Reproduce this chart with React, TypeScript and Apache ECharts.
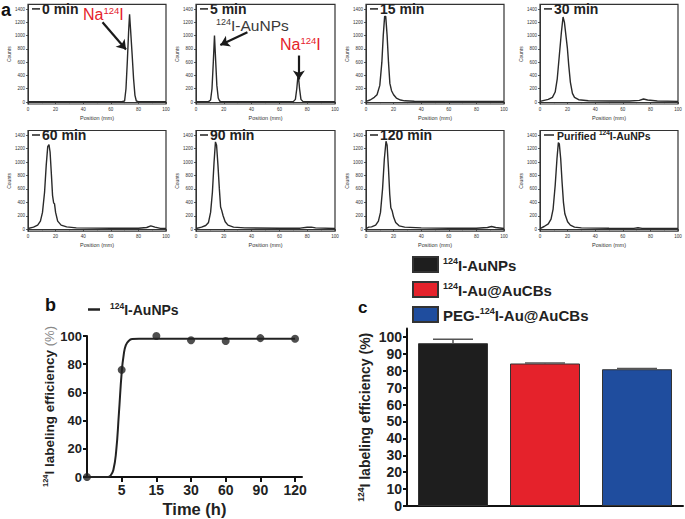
import { useEffect, useRef } from "react";
import * as echarts from "echarts";

const FONT = "'Liberation Sans', Arial, Helvetica, sans-serif";

// ---------- Panel a: radio-TLC traces [position (mm), counts] ----------
const TRACE_0MIN = [[0, 6], [20, 5], [40, 6], [60, 5], [68, 6], [70, 15], [71, 200], [72, 620], [73, 1100], [73.6, 1320], [74.3, 1100], [75.5, 700], [76.5, 350], [77.5, 100], [78.5, 15], [80, 6], [90, 5], [100, 6]];
const TRACE_5MIN = [[0, 5], [9, 6], [10.5, 30], [11.5, 200], [12.5, 620], [13.3, 1000], [14.2, 600], [15, 250], [16, 60], [17, 15], [18, 6], [40, 5], [60, 5], [70, 6], [71.5, 40], [72.5, 200], [73.5, 430], [74.5, 200], [75.5, 40], [77, 6], [100, 5]];
const TRACE_15MIN = [[0, 10], [3, 30], [6, 70], [8, 110], [10, 250], [11.5, 600], [12.5, 1000], [13.5, 1290], [14.3, 1290], [15.3, 1000], [16.3, 600], [17.3, 280], [18.5, 170], [20, 110], [22, 60], [25, 30], [28, 18], [35, 12], [60, 10], [80, 10], [100, 8]];
const TRACE_30MIN = [[0, 10], [3, 25], [6, 40], [9, 70], [11, 150], [12.5, 350], [14, 700], [15.5, 1050], [16.7, 1280], [17.7, 1200], [18.8, 1000], [19.8, 820], [20.8, 560], [22, 300], [23.5, 130], [25, 70], [28, 35], [35, 20], [50, 15], [65, 15], [72, 25], [75, 45], [78, 30], [85, 15], [100, 10]];
const TRACE_60MIN = [[0, 10], [4, 30], [7, 60], [9, 120], [10.5, 250], [12, 550], [13.2, 950], [14.3, 1230], [15.2, 1260], [16, 1150], [17, 800], [17.8, 500], [18.6, 390], [19.2, 380], [20, 250], [21.5, 120], [24, 60], [28, 35], [35, 20], [60, 15], [80, 15], [86, 25], [89, 50], [92, 30], [96, 12], [100, 10]];
const TRACE_90MIN = [[0, 10], [4, 30], [7, 55], [9, 100], [10.5, 250], [11.8, 550], [13, 1000], [14, 1300], [14.8, 1250], [15.8, 950], [16.8, 600], [17.7, 330], [18.5, 280], [19.5, 200], [21, 110], [23, 60], [27, 30], [35, 20], [60, 15], [75, 15], [80, 28], [83, 30], [86, 20], [100, 10]];
const TRACE_120MIN = [[0, 10], [2, 30], [4, 35], [7, 60], [9, 120], [10.5, 250], [12, 600], [13.3, 1050], [14.5, 1310], [15.3, 1250], [16.3, 900], [17.2, 520], [18, 320], [19, 270], [20, 180], [21.5, 100], [24, 50], [28, 30], [40, 20], [60, 15], [80, 15], [88, 25], [91, 40], [94, 25], [100, 10]];
const TRACE_PURIFIED = [[0, 10], [3, 40], [6, 80], [8, 150], [9.5, 300], [11, 650], [12.3, 1050], [13.3, 1290], [14, 1270], [15, 1050], [16, 700], [17, 400], [18, 230], [19, 170], [20, 110], [22, 60], [25, 30], [30, 20], [50, 15], [68, 12], [71, 22], [74, 12], [100, 10]];
const TRACES = [TRACE_0MIN, TRACE_5MIN, TRACE_15MIN, TRACE_30MIN, TRACE_60MIN, TRACE_90MIN, TRACE_120MIN, TRACE_PURIFIED];
const TRACE_TITLES = ["0 min", "5 min", "15 min", "30 min", "60 min", "90 min", "120 min", "{p|Purified }{ps|124}{p|I-AuNPs}"];
const POSITION_TICKS = [0, 20, 40, 60, 80, 100];
const COUNT_TICKS = [0, 200, 400, 600, 800, 1000, 1200, 1400];
// arrows in data coordinates: [from, to]
const ARROWS_0MIN = [[[54, 1200], [71, 790]]];
const ARROWS_5MIN = [[[37, 1050], [17.5, 860]], [[74, 700], [74, 340]]];

// ---------- Panel b ----------
const TIME_LABELS = ["0", "5", "15", "30", "60", "90", "120"];
const EFFICIENCY_POINTS = [0, 76, 100, 97, 96.5, 98.5, 98];
const FIT_CURVE = [[0, 0], [0.6, 0], [0.68, 1], [0.76, 5], [0.84, 18], [0.92, 45], [1.0, 74], [1.06, 87], [1.12, 93.5], [1.2, 96.5], [1.3, 97.8], [1.5, 98], [3, 98], [6, 98]];
const TIME_TICK_INDEX = [1, 2, 3, 4, 5, 6];

// ---------- Panel c ----------
const PARTICLES = ["AuNPs", "Au@AuCBs", "PEG-Au@AuCBs"];
const PARTICLE_LABELS = ["{s|124}{n|I-AuNPs}", "{s|124}{n|I-Au@AuCBs}", "{n|PEG-}{s|124}{n|I-Au@AuCBs}"];
const LABELING_MEAN = [96.3, 84.3, 80.9];
const LABELING_ERR = [2.4, 0.3, 0.4];
const BAR_TICKS = [0, 10, 20, 30, 40, 50, 60, 70, 80, 90, 100];
const BAR_COLORS = ["#1e1e1e", "#e5222b", "#1f4d9e"];

// layout
const A_LEFTS = [28, 196, 366, 540];
const A_WIDTHS = [138, 139, 138, 138];
const A_TOPS = [4.4, 130.5];
const A_HEIGHTS = [99.6, 100.7];

function buildOption() {
  const grids: any[] = [];
  const xAxes: any[] = [];
  const yAxes: any[] = [];
  const series: any[] = [];
  const graphics: any[] = [];

  for (let i = 0; i < 8; i++) {
    const r = Math.floor(i / 4);
    const c = i % 4;
    const left = A_LEFTS[c];
    const top = A_TOPS[r];
    grids.push({
      left, top, width: A_WIDTHS[c], height: A_HEIGHTS[r],
      show: true, borderColor: "#333", borderWidth: 1.2, backgroundColor: "transparent",
      containLabel: false, outerBoundsMode: "none",
    });
    xAxes.push({
      type: "value", gridIndex: i, min: 0, max: 100, interval: 20,
      axisLine: { show: true, lineStyle: { color: "#333", width: 1 } },
      axisTick: { show: true, length: 2, lineStyle: { color: "#333", width: 0.8 } },
      minorTick: { show: true, splitNumber: 2, length: 1.2, lineStyle: { color: "#333", width: 0.6 } },
      axisLabel: { customValues: POSITION_TICKS, fontSize: 4.5, color: "#333", margin: 3, fontFamily: FONT, formatter: (v: number) => String(v) },
      splitLine: { show: false },
      name: "Position (mm)", nameLocation: "middle", nameGap: 11,
      nameTextStyle: { fontSize: 5.5, color: "#333", fontFamily: FONT },
    });
    yAxes.push({
      type: "value", gridIndex: i, min: -30, max: 1470,
      axisLine: { show: true, lineStyle: { color: "#333", width: 1 } },
      axisTick: { show: true, customValues: COUNT_TICKS, length: 2, lineStyle: { color: "#333", width: 0.8 } },
      axisLabel: { customValues: COUNT_TICKS, fontSize: 4.5, color: "#333", margin: 3, fontFamily: FONT, formatter: (v: number) => String(v) },
      splitLine: { show: false },
      name: "Counts", nameLocation: "middle", nameGap: 17, nameRotate: 90,
      nameTextStyle: { fontSize: 5, color: "#333", fontFamily: FONT },
    });
    const s: any = {
      type: "line", xAxisIndex: i, yAxisIndex: i, data: TRACES[i],
      showSymbol: false, symbol: "none", smooth: false,
      lineStyle: { color: "#2a2a2a", width: 1.4 },
    };
    const arrows = i === 0 ? ARROWS_0MIN : i === 1 ? ARROWS_5MIN : null;
    if (arrows) {
      s.markLine = {
        silent: true, symbol: ["none", "arrow"], symbolSize: 9,
        lineStyle: { color: "#1a1a1a", width: 2.2, type: "solid" },
        label: { show: false },
        data: arrows.map((a) => [{ coord: a[0] }, { coord: a[1] }]),
      };
    }
    series.push(s);

    // panel legend line + title
    const purified = i === 7;
    graphics.push({
      type: "line",
      shape: { x1: left + 4, y1: top + 4.5, x2: left + (purified ? 14 : 12), y2: top + 4.5 },
      style: { stroke: "#222", lineWidth: 1.5 },
    });
    graphics.push({
      type: "text", x: left + (purified ? 17 : 14), y: top + 4.5,
      style: {
        text: TRACE_TITLES[i], fill: "#222", font: `bold 14px ${FONT}`,
        verticalAlign: "middle", align: "left",
        rich: {
          p: { fontSize: 10.5, fontWeight: "bold", fontFamily: FONT, fill: "#222", verticalAlign: "bottom", lineHeight: 12 },
          ps: { fontSize: 6.5, fontWeight: "bold", fontFamily: FONT, fill: "#222", verticalAlign: "top", lineHeight: 12 },
        },
      },
    });
  }

  // annotations on panel a
  const naRich = {
    n: { fontSize: 16, fontFamily: FONT, fill: "#e5222b", verticalAlign: "bottom", lineHeight: 17 },
    s: { fontSize: 9.5, fontFamily: FONT, fill: "#e5222b", verticalAlign: "top", lineHeight: 17 },
  };
  graphics.push({ type: "text", x: 83, y: 5, style: { text: "{n|Na}{s|124}{n|I}", rich: naRich } });
  graphics.push({ type: "text", x: 280, y: 35, style: { text: "{n|Na}{s|124}{n|I}", rich: naRich } });
  graphics.push({
    type: "text", x: 216, y: 17.5,
    style: {
      text: "{s|124}{n|I-AuNPs}",
      rich: {
        n: { fontSize: 15.5, fontFamily: FONT, fill: "#3a3a3a", verticalAlign: "bottom", lineHeight: 16 },
        s: { fontSize: 9, fontFamily: FONT, fill: "#3a3a3a", verticalAlign: "top", lineHeight: 16 },
      },
    },
  });
  graphics.push({ type: "text", x: 1, y: 1, style: { text: "a", font: `bold 18px ${FONT}`, fill: "#111" } });

  // ---------- Panel b ----------
  grids.push({ left: 87, top: 336, width: 215, height: 141, containLabel: false, outerBoundsMode: "none" });
  xAxes.push({
    type: "value", gridIndex: 8, min: 0, max: 6.2,
    axisLine: { show: true, lineStyle: { color: "#111", width: 2 } },
    axisTick: { show: true, customValues: TIME_TICK_INDEX, length: 5, lineStyle: { color: "#111", width: 2 } },
    axisLabel: {
      customValues: TIME_TICK_INDEX, formatter: (v: number) => TIME_LABELS[Math.round(v)] ?? "",
      fontSize: 14, fontWeight: "bold", color: "#222", margin: 6, fontFamily: FONT,
    },
    splitLine: { show: false },
    name: "Time (h)", nameLocation: "middle", nameGap: 23,
    nameTextStyle: { fontSize: 16.5, fontWeight: "bold", color: "#222", fontFamily: FONT },
  });
  yAxes.push({
    type: "value", gridIndex: 8, min: 0, max: 100, interval: 20,
    axisLine: { show: true, lineStyle: { color: "#111", width: 2 } },
    axisTick: { show: true, length: 4, lineStyle: { color: "#111", width: 2 } },
    axisLabel: { fontSize: 13, fontWeight: "bold", color: "#222", margin: 5, fontFamily: FONT },
    splitLine: { show: false },
    name: "{s|124}{n|I labeling efficiency }{g|(%)}", nameLocation: "middle", nameGap: 30, nameRotate: 90,
    nameTextStyle: {
      fontFamily: FONT,
      rich: {
        n: { fontSize: 13.5, fontWeight: "bold", color: "#222", fontFamily: FONT, verticalAlign: "bottom", lineHeight: 15 },
        s: { fontSize: 7.5, fontWeight: "bold", color: "#222", fontFamily: FONT, verticalAlign: "top", lineHeight: 15 },
        g: { fontSize: 13, color: "#888", fontFamily: FONT, verticalAlign: "bottom", lineHeight: 15 },
      },
    },
  });
  series.push({
    type: "line", xAxisIndex: 8, yAxisIndex: 8, data: FIT_CURVE, smooth: true,
    showSymbol: false, symbol: "none", lineStyle: { color: "#222", width: 2 },
  });
  series.push({
    type: "scatter", xAxisIndex: 8, yAxisIndex: 8,
    data: EFFICIENCY_POINTS.map((v, i) => [i, v]),
    symbolSize: 8, itemStyle: { color: "#222" },
  });
  graphics.push({ type: "text", x: 45, y: 296, style: { text: "b", font: `bold 18px ${FONT}`, fill: "#111" } });
  graphics.push({ type: "line", shape: { x1: 88, y1: 309.5, x2: 100, y2: 309.5 }, style: { stroke: "#222", lineWidth: 2.5 } });
  graphics.push({
    type: "text", x: 110, y: 301,
    style: {
      text: "{s|124}{n|I-AuNPs}",
      rich: {
        n: { fontSize: 14, fontWeight: "bold", fontFamily: FONT, fill: "#222", verticalAlign: "bottom", lineHeight: 16 },
        s: { fontSize: 8.5, fontWeight: "bold", fontFamily: FONT, fill: "#222", verticalAlign: "top", lineHeight: 16 },
      },
    },
  });

  // ---------- Panel c ----------
  grids.push({ left: 407, top: 328.5, width: 276, height: 177.5, containLabel: false, outerBoundsMode: "none" });
  xAxes.push({
    type: "category", gridIndex: 9, data: PARTICLES,
    axisLine: { show: true, lineStyle: { color: "#111", width: 2 } },
    axisTick: { show: false }, axisLabel: { show: false }, splitLine: { show: false },
  });
  yAxes.push({
    type: "value", gridIndex: 9, min: 0, max: 105,
    axisLine: { show: true, lineStyle: { color: "#111", width: 2 } },
    axisTick: { show: true, customValues: BAR_TICKS, length: 4, lineStyle: { color: "#111", width: 2 } },
    axisLabel: { customValues: BAR_TICKS, fontSize: 14, fontWeight: "bold", color: "#222", margin: 5, fontFamily: FONT },
    splitLine: { show: false },
    name: "{s|124}{n|I labeling efficiency (%)}", nameLocation: "middle", nameGap: 35, nameRotate: 90,
    nameTextStyle: {
      fontFamily: FONT,
      rich: {
        n: { fontSize: 14, fontWeight: "bold", color: "#222", fontFamily: FONT, verticalAlign: "bottom", lineHeight: 16 },
        s: { fontSize: 8.5, fontWeight: "bold", color: "#222", fontFamily: FONT, verticalAlign: "top", lineHeight: 16 },
      },
    },
  });
  PARTICLES.forEach((name, k) => {
    series.push({
      type: "bar", name, xAxisIndex: 9, yAxisIndex: 9,
      data: LABELING_MEAN.map((v, i) => (i === k ? v : "-")),
      barWidth: 70, barGap: "-100%",
      itemStyle: { color: BAR_COLORS[k], borderColor: "#333", borderWidth: 1 },
    });
  });
  series.push({
    type: "custom", xAxisIndex: 9, yAxisIndex: 9, z: 5,
    data: LABELING_MEAN.map((m, i) => [i, m, LABELING_ERR[i]]),
    encode: { x: 0, y: 1 },
    renderItem: (_p: any, api: any) => {
      const x = api.value(0);
      const m = api.value(1);
      const e = api.value(2);
      const base = api.coord([x, m]);
      const top = api.coord([x, m + e]);
      const half = 20;
      const st = { stroke: "#555", lineWidth: 1.5 };
      return {
        type: "group",
        children: [
          { type: "line", shape: { x1: base[0], y1: base[1], x2: top[0], y2: top[1] }, style: st },
          { type: "line", shape: { x1: top[0] - half, y1: top[1], x2: top[0] + half, y2: top[1] }, style: st },
        ],
      };
    },
  });
  graphics.push({ type: "text", x: 358, y: 299, style: { text: "c", font: `bold 17px ${FONT}`, fill: "#111" } });

  const legendRich = {
    n: { fontSize: 15, fontWeight: "bold", color: "#222", fontFamily: FONT, verticalAlign: "bottom", lineHeight: 17 },
    s: { fontSize: 9, fontWeight: "bold", color: "#222", fontFamily: FONT, verticalAlign: "top", lineHeight: 17 },
  };

  return {
    animation: false,
    backgroundColor: "#fff",
    textStyle: { fontFamily: FONT },
    grid: grids,
    xAxis: xAxes,
    yAxis: yAxes,
    legend: {
      data: PARTICLES, left: 412, top: 256, orient: "vertical", padding: 0,
      itemWidth: 25, itemHeight: 15, itemGap: 8, icon: "rect", selectedMode: false,
      formatter: (name: string) => PARTICLE_LABELS[PARTICLES.indexOf(name)],
      textStyle: { fontFamily: FONT, rich: legendRich },
    },
    series,
    graphic: graphics,
  };
}

export default function App() {
  const ref = useRef<HTMLDivElement>(null);
  useEffect(() => {
    if (!ref.current) return;
    const chart = echarts.init(ref.current, undefined, { renderer: "svg" });
    chart.setOption(buildOption() as any);
    return () => chart.dispose();
  }, []);
  return <div ref={ref} style={{ position: "fixed", left: 0, top: 0, width: 685, height: 519 }} />;
}
